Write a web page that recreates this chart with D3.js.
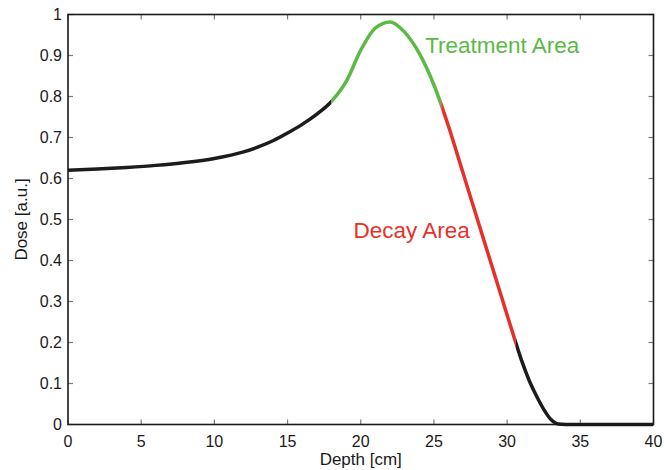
<!DOCTYPE html>
<html>
<head>
<meta charset="utf-8">
<script src="https://cdn.jsdelivr.net/npm/d3@7"></script>
<style>
  body { margin: 0; background: #fff; }
  text { font-family: "Liberation Sans", Arial, sans-serif; }
</style>
</head>
<body>
<div id="wrapper"></div>
<script>
// depth-dose curve
const depth = [0, 2, 4, 6, 8, 10, 12, 13, 14, 15, 16, 17, 18, 19, 20, 21, 22, 23, 24, 25, 26, 27, 28, 29, 30, 30.5, 31, 31.5, 32, 32.5, 33, 33.5, 34, 36, 38, 40]
const dose  = [0.620, 0.623, 0.627, 0.632, 0.639, 0.649, 0.665, 0.677, 0.692, 0.711, 0.732, 0.757, 0.788, 0.836, 0.913, 0.967, 0.982, 0.957, 0.905, 0.828, 0.727, 0.612, 0.497, 0.382, 0.267, 0.210, 0.155, 0.108, 0.070, 0.037, 0.012, 0.001, 0, 0, 0, 0]

// coloured regions of the curve
const regionNames  = ["base", "Treatment Area", "Decay Area", "tail"]
const regionStart  = [0, 18, 25.5, 30.6]
const regionEnd    = [18, 25.5, 30.6, 40]
const regionColors = ["#1c1c1c", "#5cb946", "#e8302a", "#1c1c1c"]

const xTicks = [0, 5, 10, 15, 20, 25, 30, 35, 40]
const yTicks = [0, 0.1, 0.2, 0.3, 0.4, 0.5, 0.6, 0.7, 0.8, 0.9, 1]

// annotation labels: text, anchor depth, anchor dose
const labelText  = ["Treatment Area", "Decay Area"]
const labelDepth = [24.4, 19.5]
const labelDose  = [0.905, 0.454]
const labelColor = ["#5cb946", "#e8302a"]

const dims = {
    width: 664,
    height: 470,
    margin: { top: 14.5, right: 10.5, bottom: 45.5, left: 68 }
}
dims.boundWidth = dims.width - dims.margin.left - dims.margin.right
dims.boundHeight = dims.height - dims.margin.top - dims.margin.bottom

const svg = d3.select("#wrapper").append("svg")
    .attr("width", dims.width)
    .attr("height", dims.height)

const bound = svg.append("g")
    .attr("transform", `translate(${dims.margin.left},${dims.margin.top})`)

const x = d3.scaleLinear().domain([0, 40]).range([0, dims.boundWidth])
const y = d3.scaleLinear().domain([0, 1]).range([dims.boundHeight, 0])

const points = depth.map((d, i) => ({ depth: d, dose: dose[i] }))

// inward ticks, matlab style, on all four sides
const tickLen = 5
const tickColor = "#7a7a7a"
const ticks = bound.append("g")
xTicks.forEach(t => {
    ticks.append("line").attr("x1", x(t)).attr("x2", x(t))
        .attr("y1", y(0)).attr("y2", y(0) - tickLen)
    ticks.append("line").attr("x1", x(t)).attr("x2", x(t))
        .attr("y1", y(1)).attr("y2", y(1) + tickLen)
})
yTicks.forEach(t => {
    ticks.append("line").attr("x1", x(0)).attr("x2", x(0) + tickLen)
        .attr("y1", y(t)).attr("y2", y(t))
    ticks.append("line").attr("x1", x(40)).attr("x2", x(40) - tickLen)
        .attr("y1", y(t)).attr("y2", y(t))
})
ticks.selectAll("line").attr("stroke", tickColor).attr("stroke-width", 1.2)

// tick labels
bound.append("g").selectAll("text")
    .data(xTicks).join("text")
    .attr("x", d => x(d))
    .attr("y", dims.boundHeight + 22)
    .attr("text-anchor", "middle")
    .attr("font-size", 16)
    .attr("fill", "#1a1a1a")
    .text(d => d)

bound.append("g").selectAll("text")
    .data(yTicks).join("text")
    .attr("x", -6)
    .attr("y", d => y(d) + 5.5)
    .attr("text-anchor", "end")
    .attr("font-size", 16)
    .attr("fill", "#1a1a1a")
    .text(d => d3.format("~g")(d))

// curve, drawn once per region and clipped to that region's depth range
const line = d3.line()
    .x(d => x(d.depth))
    .y(d => y(d.dose))
    .curve(d3.curveMonotoneX)

const defs = svg.append("defs")
regionNames.forEach((name, i) => {
    defs.append("clipPath").attr("id", "clip" + i)
        .append("rect")
        .attr("x", x(regionStart[i]))
        .attr("width", x(regionEnd[i]) - x(regionStart[i]))
        .attr("y", -10)
        .attr("height", dims.boundHeight + 20)
    bound.append("path")
        .datum(points)
        .attr("d", line)
        .attr("fill", "none")
        .attr("stroke", regionColors[i])
        .attr("stroke-width", 3.5)
        .attr("clip-path", `url(#clip${i})`)
})

// box
bound.append("rect")
    .attr("x", 0).attr("y", 0)
    .attr("width", dims.boundWidth).attr("height", dims.boundHeight)
    .attr("fill", "none")
    .attr("stroke", "#1a1a1a")
    .attr("stroke-width", 1.6)

// annotations
bound.append("g").selectAll("text")
    .data(labelText).join("text")
    .attr("x", (d, i) => x(labelDepth[i]))
    .attr("y", (d, i) => y(labelDose[i]))
    .attr("font-family", "'Open Sans', sans-serif")
    .attr("font-size", 22.5)
    .attr("fill", (d, i) => labelColor[i])
    .text(d => d)

// axis titles
svg.append("text")
    .attr("x", dims.margin.left + dims.boundWidth / 2)
    .attr("y", 465)
    .attr("text-anchor", "middle")
    .attr("font-size", 17)
    .attr("fill", "#1a1a1a")
    .text("Depth [cm]")

svg.append("text")
    .attr("transform", `translate(27,${dims.margin.top + dims.boundHeight / 2}) rotate(-90)`)
    .attr("text-anchor", "middle")
    .attr("font-size", 17)
    .attr("fill", "#1a1a1a")
    .text("Dose [a.u.]")
</script>
</body>
</html>
